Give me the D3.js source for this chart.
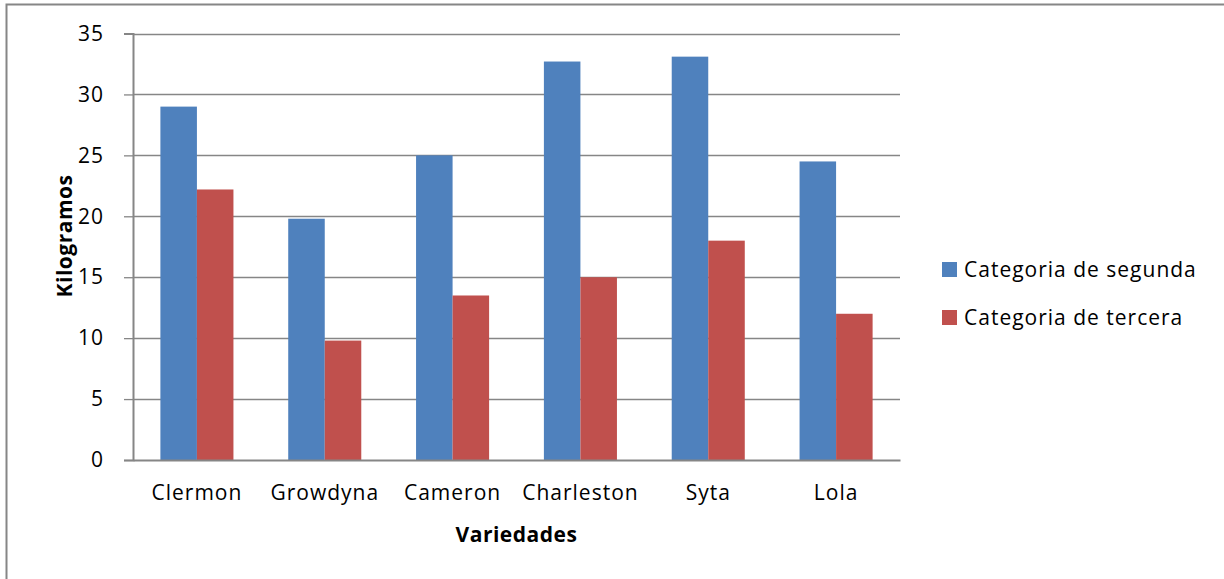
<!DOCTYPE html>
<html>
<head>
<meta charset="utf-8">
<script src="https://cdn.jsdelivr.net/npm/d3@7"></script>
<style>
  html, body { margin: 0; padding: 0; background: #fff; }
  svg { display: block; }
  text { font-family: "Open Sans", "Noto Sans", sans-serif; fill: #000; }
</style>
</head>
<body>
<svg id="chart" width="1224" height="579"></svg>
<script>
// Production by variety, in kilograms
const categories = ["Clermon", "Growdyna", "Cameron", "Charleston", "Syta", "Lola"];
const seriesNames = ["Categoria de segunda", "Categoria de tercera"];
const segunda = [29, 19.8, 25, 32.7, 33.1, 24.5];
const tercera = [22.2, 9.8, 13.5, 15, 18, 12];
const yTicks = [0, 5, 10, 15, 20, 25, 30, 35];
const colors = ["#4F81BD", "#C0504D"];

const svg = d3.select("#chart");
const plot = { left: 133, right: 900, top: 33.5, bottom: 460 };
const gridColor = "#868686";
const fontSize = 21;
const spacing = "1px";

// Outer chart frame
svg.append("rect")
  .attr("x", 6.5).attr("y", 4.5)
  .attr("width", 1240).attr("height", 600)
  .attr("fill", "none").attr("stroke", gridColor).attr("stroke-width", 2);

const y = d3.scaleLinear().domain([0, 35]).range([plot.bottom, plot.top]);
const gap = 1.5 / 3.5;
const x = d3.scaleBand().domain(categories)
  .range([plot.left, plot.right])
  .paddingInner(gap).paddingOuter(gap / 2);
const xs = d3.scaleBand().domain(seriesNames).range([0, x.bandwidth()]).padding(0);

// Horizontal gridlines
svg.append("g").selectAll("line").data(yTicks.filter(t => t > 0)).join("line")
  .attr("x1", plot.left).attr("x2", plot.right)
  .attr("y1", d => Math.round(y(d)) + 0.5).attr("y2", d => Math.round(y(d)) + 0.5)
  .attr("stroke", gridColor).attr("stroke-width", 1.3);

// Bars
const rows = categories.map((c, i) => ({ cat: c, vals: [segunda[i], tercera[i]] }));
const groups = svg.append("g").selectAll("g").data(rows).join("g")
  .attr("transform", d => `translate(${x(d.cat)},0)`);
groups.selectAll("rect")
  .data(d => d.vals.map((v, k) => ({ name: seriesNames[k], v, k })))
  .join("rect")
  .attr("x", d => xs(d.name))
  .attr("width", xs.bandwidth())
  .attr("y", d => y(d.v))
  .attr("height", d => y(0) - y(d.v))
  .attr("fill", d => colors[d.k]);

// Y axis
const yAxis = d3.axisLeft(y).tickValues(yTicks).tickSize(9).tickPadding(20).tickFormat(d3.format("d"));
const gy = svg.append("g").attr("transform", `translate(${plot.left},0)`).call(yAxis);
gy.select(".domain").attr("stroke", gridColor).attr("stroke-width", 2);
gy.selectAll(".tick line").attr("stroke", gridColor).attr("stroke-width", 1.3);
gy.selectAll(".tick text").attr("font-size", fontSize).attr("font-family", "Open Sans")
  .attr("fill", "#000").style("letter-spacing", spacing);

// X axis
const xAxis = d3.axisBottom(x).tickSize(0).tickPadding(25);
const gx = svg.append("g").attr("transform", `translate(0,${plot.bottom})`).call(xAxis);
gx.select(".domain").attr("stroke", gridColor).attr("stroke-width", 2);
gx.selectAll(".tick text").attr("font-size", fontSize).attr("font-family", "Open Sans")
  .attr("fill", "#000").style("letter-spacing", spacing);

// Axis titles
svg.append("text")
  .attr("x", (plot.left + plot.right) / 2).attr("y", 542)
  .attr("text-anchor", "middle").attr("font-weight", "bold").attr("font-size", fontSize)
  .style("letter-spacing", "0.5px")
  .text("Variedades");
svg.append("text")
  .attr("transform", "translate(72,236) rotate(-90)")
  .attr("text-anchor", "middle").attr("font-weight", "bold").attr("font-size", fontSize)
  .style("letter-spacing", "0.5px")
  .text("Kilogramos");

// Legend
const legend = svg.append("g").selectAll("g").data(seriesNames).join("g")
  .attr("transform", (d, i) => `translate(942,${262 + i * 48})`);
legend.append("rect").attr("width", 15).attr("height", 15).attr("fill", (d, i) => colors[i]);
legend.append("text").attr("x", 22).attr("y", 15).attr("font-size", fontSize)
  .style("letter-spacing", spacing).text(d => d);
</script>
</body>
</html>
